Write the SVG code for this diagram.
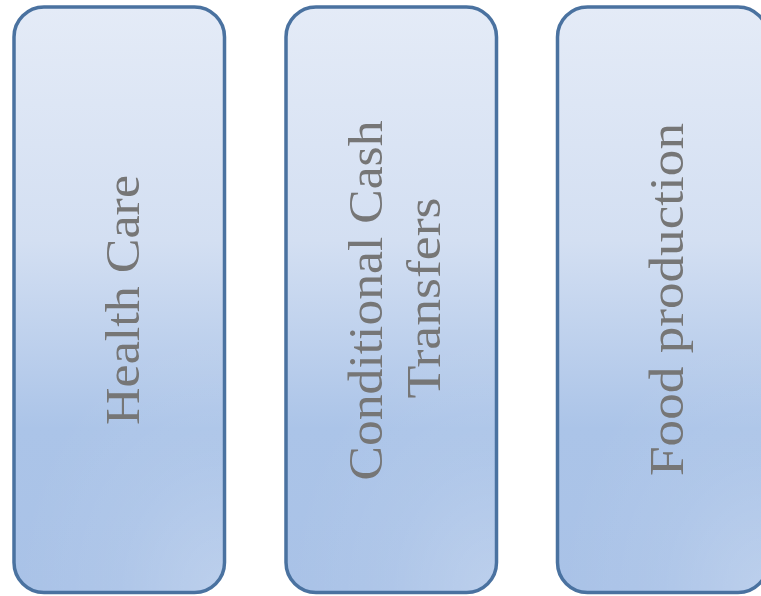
<svg xmlns="http://www.w3.org/2000/svg" width="761" height="596" viewBox="0 0 761 596">
  <defs>
    <linearGradient id="fill" x1="0" y1="0" x2="0" y2="1">
      <stop offset="0" stop-color="#e4ebf7"/>
      <stop offset="0.4" stop-color="#d3dff2"/>
      <stop offset="0.72" stop-color="#abc4e8"/>
      <stop offset="1" stop-color="#a9c2e7"/>
    </linearGradient>
    <radialGradient id="glow" cx="1" cy="1" r="1" gradientUnits="objectBoundingBox" gradientTransform="translate(1 1) scale(1 0.45) translate(-1 -1)">
      <stop offset="0" stop-color="#ffffff" stop-opacity="0.22"/>
      <stop offset="0.5" stop-color="#ffffff" stop-opacity="0.07"/>
      <stop offset="1" stop-color="#ffffff" stop-opacity="0"/>
    </radialGradient>
  </defs>
  <style>
    .box { fill: url(#fill); stroke: #4a72a0; stroke-width: 3.5; }
    .glow { fill: url(#glow); stroke: none; }
    .lbl { font-family: Georgia, "Liberation Serif", "DejaVu Serif", serif; font-size: 48px; fill: #767676; text-anchor: middle; }
  </style>
  <rect width="761" height="596" fill="#ffffff"/>
  <g id="node-health-care">
    <rect class="box" x="14" y="7" width="210.5" height="585.5" rx="30" ry="30"/>
    <rect class="glow" x="15.75" y="8.75" width="207" height="582" rx="28" ry="28"/>
    <text class="lbl" transform="translate(139 300) rotate(-90)" x="0" y="0" textLength="250" lengthAdjust="spacingAndGlyphs">Health Care</text>
  </g>
  <g id="node-conditional-cash-transfers">
    <rect class="box" x="286" y="7" width="210.5" height="585.5" rx="30" ry="30"/>
    <rect class="glow" x="287.75" y="8.75" width="207" height="582" rx="28" ry="28"/>
    <text class="lbl" transform="translate(382 300.5) rotate(-90)" x="0" y="0" textLength="360" lengthAdjust="spacingAndGlyphs">Conditional Cash</text>
    <text class="lbl" transform="translate(440 298) rotate(-90)" x="0" y="0" textLength="201" lengthAdjust="spacingAndGlyphs">Transfers</text>
  </g>
  <g id="node-food-production">
    <rect class="box" x="557.5" y="7" width="210.5" height="585.5" rx="30" ry="30"/>
    <rect class="glow" x="559.25" y="8.75" width="207" height="582" rx="28" ry="28"/>
    <text class="lbl" transform="translate(683 299.5) rotate(-90)" x="0" y="0" textLength="353" lengthAdjust="spacingAndGlyphs">Food production</text>
  </g>
  <g id="connectors"/>
</svg>
